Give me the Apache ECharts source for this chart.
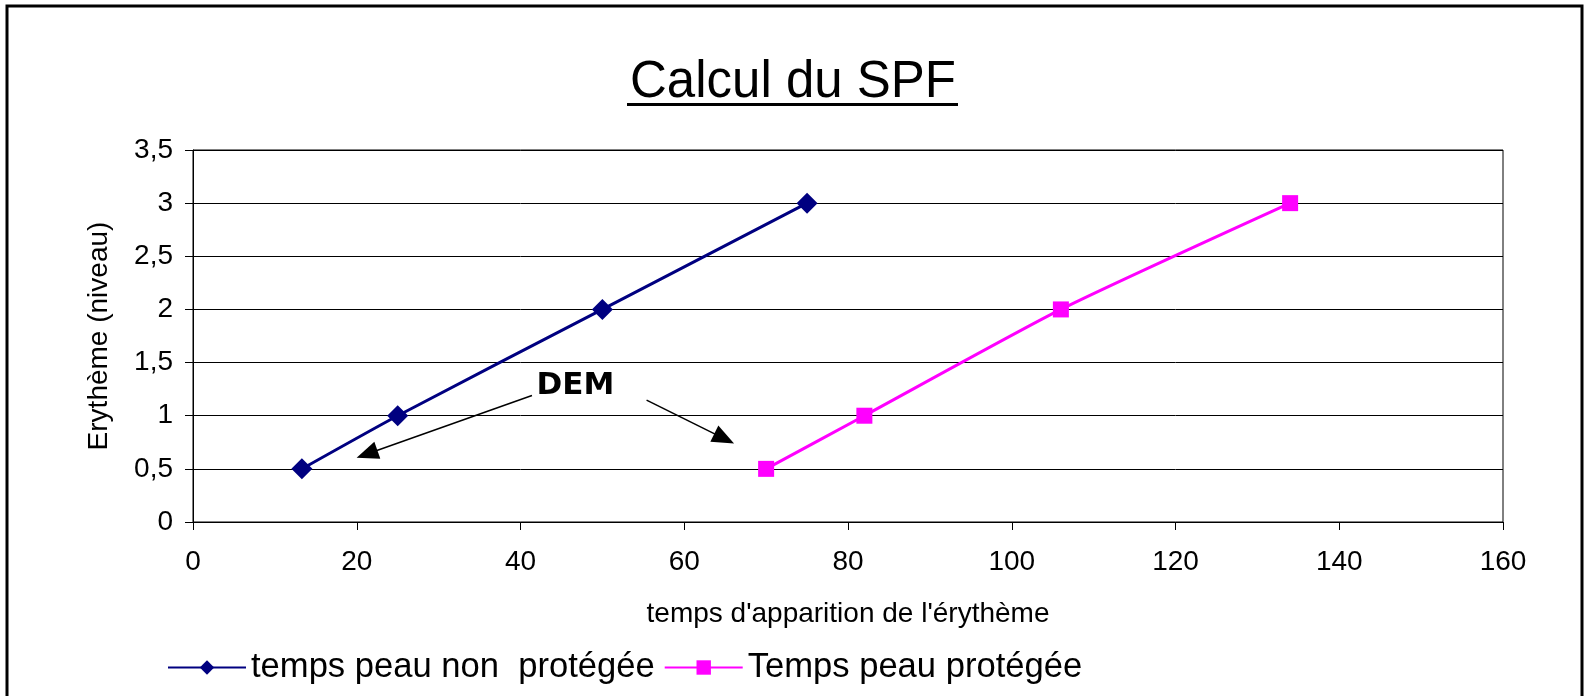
<!DOCTYPE html>
<html>
<head>
<meta charset="utf-8">
<script src="https://cdn.jsdelivr.net/npm/echarts@6/dist/echarts.min.js"></script>
<style>
html,body{margin:0;padding:0;background:#fff;}
#chart{width:1585px;height:696px;}
</style>
</head>
<body>
<div id="chart"></div>
<script>
// Data
const seriesNames = ["temps peau non  protégée", "Temps peau protégée"];
const unprotectedX = [13.3, 25, 50, 75];
const unprotectedY = [0.5, 1, 2, 3];
const protectedX = [70, 82, 106, 134];
const protectedY = [0.5, 1, 2, 3];
const xTicks = [0, 20, 40, 60, 80, 100, 120, 140, 160];
const yTicks = [0, 0.5, 1, 1.5, 2, 2.5, 3, 3.5];
const annotationText = "DEM";
const annotationPos = [46.7, 1.28];
const arrow1 = [[41.4, 1.19], [21.25, 0.64]];
const arrow2 = [[55.4, 1.146], [64.88, 0.785]];

const FONT = "'Liberation Sans', Arial, sans-serif";
const chart = echarts.init(document.getElementById('chart'), null, {renderer: 'canvas'});

const pairs = (xs, ys) => xs.map((x, i) => [x, ys[i]]);

chart.setOption({
  animation: false,
  backgroundColor: '#fff',
  title: {
    text: 'Calcul du SPF',
    left: 625, top: 52,
    textStyle: {fontFamily: FONT, fontSize: 51, fontWeight: 'normal', color: '#000'}
  },
  graphic: [
    {type: 'rect', shape: {x: 7, y: 6, width: 1575, height: 720}, style: {fill: 'none', stroke: '#000', lineWidth: 3}, silent: true},
    {type: 'rect', shape: {x: 627, y: 103, width: 331, height: 3}, style: {fill: '#000'}, silent: true}
  ],
  grid: {left: 193, right: 82, top: 150, bottom: 174, show: true, borderColor: '#000', borderWidth: 1, backgroundColor: '#fff'},
  legend: {
    left: 162, top: 645,
    itemWidth: 78, itemHeight: 18, itemGap: 9,
    textStyle: {fontFamily: FONT, fontSize: 34.6, color: '#000'},
    data: seriesNames
  },
  xAxis: {
    type: 'value', min: xTicks[0], max: xTicks[xTicks.length - 1], interval: 20,
    name: "temps d'apparition de l'érythème",
    nameLocation: 'middle', nameGap: 78,
    nameTextStyle: {fontFamily: FONT, fontSize: 28, color: '#000'},
    axisLine: {show: true, lineStyle: {color: '#000', width: 1}},
    axisTick: {show: true, length: 8, lineStyle: {color: '#000'}},
    axisLabel: {fontFamily: FONT, fontSize: 28, color: '#000', margin: 26},
    splitLine: {show: false}
  },
  yAxis: {
    type: 'value', min: yTicks[0], max: yTicks[yTicks.length - 1], interval: 0.5,
    name: 'Erythème (niveau)',
    nameLocation: 'middle', nameGap: 80,
    nameTextStyle: {fontFamily: FONT, fontSize: 28, color: '#000'},
    axisLine: {show: true, lineStyle: {color: '#000', width: 1}},
    axisTick: {show: true, length: 8, lineStyle: {color: '#000'}},
    axisLabel: {fontFamily: FONT, fontSize: 28, color: '#000', margin: 20,
      formatter: v => String(v).replace('.', ',')},
    splitLine: {show: true, lineStyle: {color: '#000', width: 1}}
  },
  series: [
    {
      name: seriesNames[0], type: 'line', smooth: 0.2,
      data: pairs(unprotectedX, unprotectedY),
      symbol: 'diamond', symbolSize: 21,
      lineStyle: {color: '#000080', width: 3},
      itemStyle: {color: '#000080'},
      z: 3,
      markLine: {
        silent: true, animation: false,
        symbol: ['none', 'triangle'], symbolSize: [18, 22],
        lineStyle: {color: '#000', width: 1.5, type: 'solid'},
        label: {show: false},
        data: [
          [{coord: arrow1[0]}, {coord: arrow1[1]}],
          [{coord: arrow2[0]}, {coord: arrow2[1]}]
        ]
      },
      markPoint: {
        silent: true, animation: false,
        symbol: 'circle', symbolSize: 1,
        itemStyle: {color: 'rgba(0,0,0,0)'},
        label: {show: true, position: 'inside', formatter: annotationText,
          fontFamily: "'DejaVu Sans', sans-serif", fontWeight: 'bold', fontSize: 31, color: '#000'},
        data: [{coord: annotationPos}]
      }
    },
    {
      name: seriesNames[1], type: 'line', smooth: 0.2,
      data: pairs(protectedX, protectedY),
      symbol: 'rect', symbolSize: 16,
      lineStyle: {color: '#FF00FF', width: 3},
      itemStyle: {color: '#FF00FF'},
      z: 3
    }
  ]
});
</script>
</body>
</html>
